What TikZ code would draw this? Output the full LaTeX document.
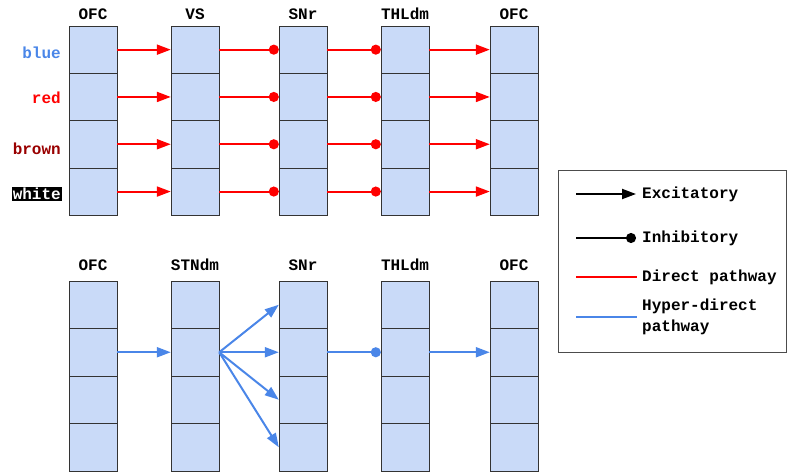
\documentclass[tikz,border=0pt]{standalone}
\usepackage{fontspec}
\setmainfont{Liberation Mono}
\usetikzlibrary{arrows.meta}
\definecolor{cellblue}{HTML}{C9DAF8}
\definecolor{hdblue}{HTML}{4A86E8}
\definecolor{darkbrown}{HTML}{990000}
\tikzset{
	cell/.style={draw=black!80, fill=cellblue, minimum width=48pt, minimum height=47.4pt, inner sep=0pt},
	lbl/.style={font=\fontsize{16}{21}\selectfont\bfseries, inner sep=2pt},
	exc/.style={line width=2pt, -{Triangle[length=14pt,width=10pt]}},
	inh/.style={line width=2pt, -{Circle[length=10pt]}},
}
\begin{document}
\begin{tikzpicture}[x=1pt, y=-1pt]
			\useasboundingbox (0,0) rectangle (787,472);
			% columns of cells, top (direct) and bottom (hyper-direct)
			\foreach \c/\x/\up/\down in {1/93/OFC/OFC, 2/195/VS/STNdm, 3/303/SNr/SNr, 4/405/THLdm/THLdm, 5/514/OFC/OFC} {
				\node[lbl] (ht\c) at (\x,14) {\up};
				\node[lbl] (hb\c) at (\x,265) {\down};
				\foreach \r in {1,...,4} {
					\node[cell] (t\c-\r) at (\x,{26+47.3*(\r-0.5)}) {};
					\node[cell] (b\c-\r) at (\x,{281+47.5*(\r-0.5)}) {};
				}
			}
			% colour labels
			\node[lbl, anchor=east, text=hdblue] (cblue) at (63,53) {blue};
			\node[lbl, anchor=east, text=red] (cred) at (63,98) {red};
			\node[lbl, anchor=east, text=darkbrown] (cbrown) at (63,149) {brown};
			\node[lbl, anchor=east, text=white, fill=black, inner sep=1pt] (cwhite) at (62,194) {white};
			% direct pathway
			\foreach \r in {1,...,4} {
				\draw[exc, red] (t1-\r.east) -- (t2-\r.west);
				\draw[inh, red] (t2-\r.east) -- (t3-\r.west);
				\draw[inh, red] (t3-\r.east) -- (t4-\r.west);
				\draw[exc, red] (t4-\r.east) -- (t5-\r.west);
			}
			% hyper-direct pathway
			\draw[exc, hdblue] (b1-2.east) -- (b2-2.west);
			\foreach \r in {1,...,4}
				\draw[exc, hdblue] (b2-2.east) -- (b3-\r.west);
			\draw[inh, hdblue] (b3-2.east) -- (b4-2.west);
			\draw[exc, hdblue] (b4-2.east) -- (b5-2.west);
			% legend
			\node[draw=black!70, line width=0.8pt, minimum width=228pt, minimum height=182pt, inner sep=0pt] (legend) at (672,261) {};
			\node[lbl, anchor=west] (lexc) at (640,194) {Excitatory};
			\node[lbl, anchor=west] (linh) at (640,238) {Inhibitory};
			\node[lbl, anchor=west] (ldir) at (640,277) {Direct pathway};
			\node[lbl, anchor=west, align=left] (lhyp) at (640,317) {Hyper-direct\\pathway};
			\coordinate (excA) at (576,194);
			\coordinate (excB) at (636,194);
			\coordinate (inhA) at (576,238);
			\coordinate (inhB) at (636,238);
			\coordinate (dirA) at (576,277);
			\coordinate (dirB) at (637,277);
			\coordinate (hypA) at (576,317);
			\coordinate (hypB) at (637,317);
			\draw[exc, black] (excA) -- (excB);
			\draw[inh, black] (inhA) -- (inhB);
			\draw[line width=2pt, red] (dirA) -- (dirB);
			\draw[line width=2pt, hdblue] (hypA) -- (hypB);
\end{tikzpicture}
\end{document}
